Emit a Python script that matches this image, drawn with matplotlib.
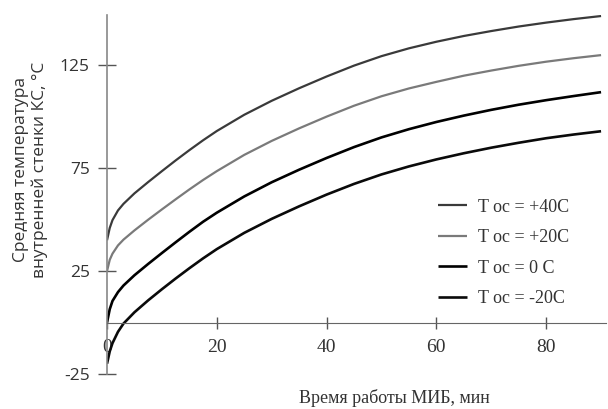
import matplotlib
matplotlib.use("Agg")
import matplotlib.pyplot as plt

plt.rcParams["axes.unicode_minus"] = False

# time, min
t = [0, 0.5, 1, 2, 3, 5, 7.5, 10, 12.5, 15, 17.5, 20, 25, 30, 35, 40, 45,
     50, 55, 60, 65, 70, 75, 80, 85, 90]

# mean wall temperature for each ambient temperature
t_p40 = [40, 46, 49.8, 54.5, 57.7, 62.8, 68.3, 73.6, 78.8, 83.8, 88.6, 93.1, 101,
         107.8, 113.9, 119.6, 124.9, 129.5, 133.3, 136.5, 139.3, 141.7, 143.9,
         145.8, 147.5, 149]
t_p20 = [25, 30.5, 33.5, 37.5, 40.3, 44.8, 50, 55, 59.9, 64.7, 69.3, 73.6, 81.5,
         88.3, 94.4, 100.1, 105.4, 110, 113.8, 117, 120, 122.5, 124.8, 126.8,
         128.5, 130]
t_0 = [0, 6.5, 10.5, 14.8, 18, 23, 28.5, 33.8, 39, 44.1, 49, 53.4, 61.3,
       68.2, 74.3, 80, 85.3, 90, 94, 97.5, 100.6, 103.4, 105.9, 108.1,
       110.1, 112]
t_m20 = [-20, -14, -10, -4.5, -0.5, 5, 10.8, 16.2, 21.4, 26.4, 31.2, 35.7, 43.6,
         50.4, 56.5, 62.2, 67.4, 72, 75.9, 79.3, 82.3, 85, 87.4, 89.6,
         91.4, 93]

labels = ["T oc = +40C", "T oc = +20C", "T oc = 0 C", "T oc = -20C"]
colors = ["#3a3a3a", "#7a7a7a", "#000000", "#0a0a0a"]
widths = [1.6, 1.6, 1.9, 1.9]

xticks = [0, 20, 40, 60, 80]
yticks = [-25, 25, 75, 125]

fig = plt.figure(figsize=(6.08, 4.09), dpi=100)
ax = fig.add_axes([107/608, 35/409, 499/608, 359/409])

series = [t_p40, t_p20, t_0, t_m20]
for s, lab, c, w in zip(series, labels, colors, widths):
    ax.plot(t, s, color=c, lw=w, label=lab, solid_capstyle="butt",
            solid_joinstyle="round")

ax.set_xlim(0, 90.9)
ax.set_ylim(-25, 149.5)

ax.spines["top"].set_visible(False)
ax.spines["right"].set_visible(False)
ax.spines["bottom"].set_position(("data", 0))
ax.spines["bottom"].set_color("#666666")
ax.spines["left"].set_color("#888888")
ax.spines["left"].set_linewidth(1.2)

ax.set_xticks(xticks)
ax.set_yticks(yticks)
ax.tick_params(axis="x", direction="inout", length=9, width=1, color="#555555",
               pad=7, labelsize=14, labelcolor="#333333")
ax.tick_params(axis="y", direction="inout", length=13, width=1, color="#555555",
               pad=6, labelsize=12.5, labelcolor="#333333")
for lb in ax.get_xticklabels():
    lb.set_fontfamily("Liberation Serif")
for lb in ax.get_yticklabels():
    lb.set_fontfamily("Open Sans")

fig.text(31/608, 1 - 170/409, "Средняя температура\nвнутренней стенки КС, °С",
         rotation=90, ha="center", va="center", multialignment="center",
         fontsize=12.5, family=["Open Sans", "DejaVu Sans"], color="#333333",
         linespacing=1.2)
fig.text(394/608, 1 - 398/409, "Время работы МИБ, мин", ha="center", va="center",
         fontsize=13, family="Liberation Serif", color="#333333")

leg = ax.legend(loc="center left", bbox_to_anchor=(438/608, 1 - 253/409),
                bbox_transform=fig.transFigure, frameon=False, borderpad=0,
                borderaxespad=0, handlelength=1.6, handletextpad=0.6,
                labelspacing=0.75, prop={"family": "Liberation Serif", "size": 13})
for txt in leg.get_texts():
    txt.set_color("#333333")

fig.savefig("out.png", dpi=100)
